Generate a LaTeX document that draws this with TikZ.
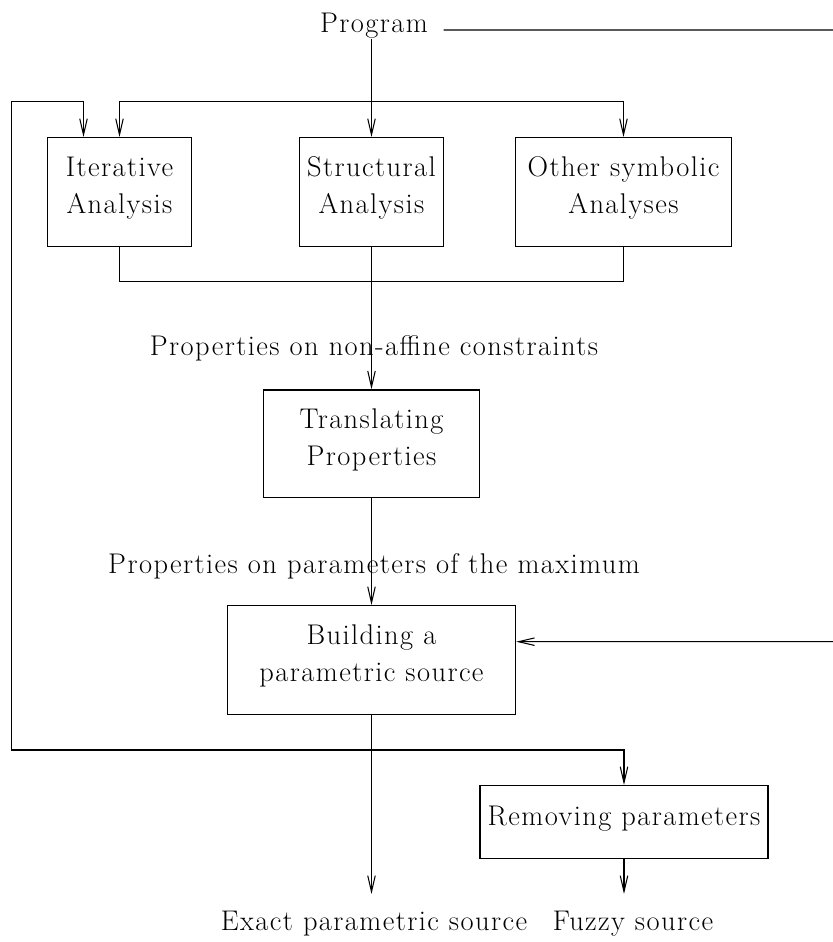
\documentclass[tikz,border=0pt]{standalone}
\usepackage{fontspec}
\usepackage{tikz}
\usetikzlibrary{arrows.meta}
\newfontfamily\figfam{Latin Modern Roman}[LetterSpace=5.0]
\newcommand{\figfont}{\figfam\fontsize{16.2}{21}\selectfont}
\tikzset{
	box/.style={draw, line width=0.8pt, rectangle, align=center, inner sep=0pt, text depth=7.5pt, font=\figfont},
	lbl/.style={inner sep=0pt, anchor=base, font=\figfont},
	arr/.style={line width=0.6pt, -{Straight Barb[length=3.2mm,width=1.5mm]}},
	wire/.style={line width=0.6pt}
}

\begin{document}
\begin{tikzpicture}
			%%%%% START %%%%%
			\useasboundingbox (0, 0) rectangle (16.66, 18.84);
			\clip (0, 0) rectangle (16.66, 18.84);
			
			\node[lbl] (prog) at (7.48, 18.19) {Program};
			
			\node[box, minimum width=2.89cm, minimum height=2.17cm] (iter) at (2.39, 15.0) {Iterative\\Analysis};
			\node[box, minimum width=2.88cm, minimum height=2.17cm] (struct) at (7.43, 15.0) {Structural\\Analysis};
			\node[box, minimum width=4.33cm, minimum height=2.17cm] (other) at (12.47, 15.0) {Other symbolic\\Analyses};
			
			\node[lbl] (nonaff) at (7.48, 11.73) {Properties on non-affine constraints};
			\node[box, minimum width=4.32cm, minimum height=2.15cm] (trans) at (7.43, 9.965) {Translating\\Properties};
			
			\node[lbl] (param) at (7.48, 7.37) {Properties on parameters of the maximum};
			\node[box, minimum width=5.76cm, minimum height=2.17cm] (build) at (7.43, 5.64) {Building a\\parametric source};
			
			\node[box, minimum width=5.76cm, minimum height=1.45cm] (rem) at (12.48, 2.40) {Removing parameters};
			
			\node[lbl] (exact) at (7.48, 0.24) {Exact parametric source};
			\node[lbl] (fuzzy) at (12.66, 0.24) {Fuzzy source};
			
			\coordinate (split) at (7.43, 16.81);
			\coordinate (join) at (7.43, 13.21);
			\coordinate (fb) at (7.43, 3.84);
			\coordinate (fbL) at (0.234, 3.84);
			\coordinate (topL) at (0.234, 16.81);
			\coordinate (pr) at (16.8, 18.24);
			\coordinate (br) at (16.8, 6.006);
			\coordinate (endA) at (7.43, 0.96);
			\coordinate (endB) at (12.48, 0.96);
			
			% program into the analyses
			\draw[arr] (prog.south -| struct.north) -- (struct.north);
			\draw[arr] (split) -| (iter.north);
			\draw[arr] (split) -| (other.north);
			
			% results of the analyses
			\draw[wire] (iter.south) |- (join) -| (other.south);
			\draw[arr] (struct.south) -- (trans.north);
			\draw[arr] (trans.south) -- (build.north);
			
			% program straight to the source builder
			\draw[arr] ([shift={(0.31, 0.05)}]prog.base east) -- (pr) -- (br) -- (br -| build.east);
			
			% outputs
			\draw[arr] (build.south) -- (endA);
			\draw[arr] (rem.south) -- (endB);
			\draw[arr] (fb) -| (rem.north);
			\draw[arr] (fb) -- (fbL) -- (topL) -- ([xshift=-0.72cm]iter.north |- topL) -- ([xshift=-0.72cm]iter.north);
			
			%%%%% END %%%%%
\end{tikzpicture}
\end{document}
